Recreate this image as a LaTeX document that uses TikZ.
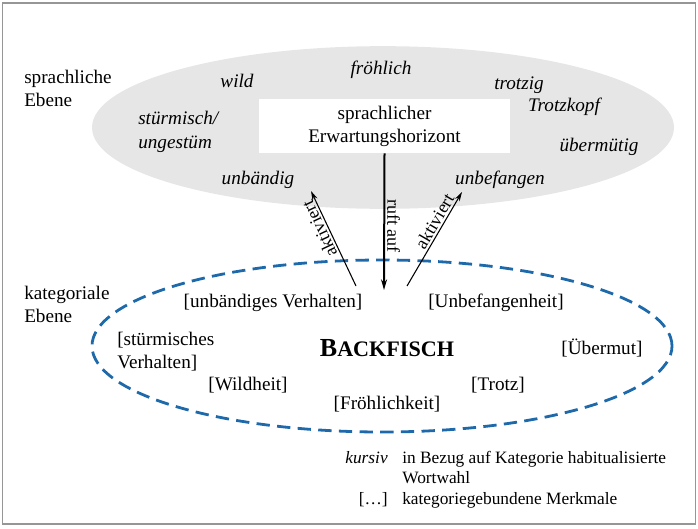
\documentclass[tikz,border=0pt]{standalone}
\usepackage{fontspec}
\setmainfont{Liberation Serif}
\usetikzlibrary{shapes.geometric,arrows.meta}
\definecolor{ellgray}{RGB}{230,230,230}
\definecolor{dashblue}{RGB}{30,105,170}
\definecolor{framegray}{RGB}{150,150,150}
\begin{document}
\begin{tikzpicture}[x=0.75pt,y=-0.75pt,
  txt/.style={inner sep=0pt,font=\fontsize{14.4}{17.25}\selectfont},
  wrd/.style={inner sep=0pt,font=\fontsize{14.4}{18}\selectfont\itshape},
  leg/.style={inner sep=0pt,font=\fontsize{13}{15}\selectfont},
  lab/.style={inner sep=1.5pt,font=\fontsize{13.5}{15}\selectfont,sloped,allow upside down,above},
  thinarrow/.style={line width=0.8pt,-{Stealth[length=7pt,width=4pt]}},
  thickarrow/.style={line width=1.5pt,-{Stealth[length=8pt,width=4.5pt]}}
]
\useasboundingbox (0,0) rectangle (698,528);
\draw[framegray,line width=1.1pt] (2.5,3) rectangle (695.5,524);

% upper ellipse
\node[ellipse,fill=ellgray,inner sep=0pt,minimum width=436.5pt,minimum height=122pt] (upper) at (383,127.5) {};
\node[fill=white,txt,align=center,minimum width=188pt,minimum height=40.5pt] (box) at (384.5,126) {sprachlicher\\Erwartungshorizont};

\node[txt,anchor=west,align=left] (sprEb) at (24,88.5) {sprachliche\\Ebene};
\node[wrd] (wild) at (237,81) {wild};
\node[wrd] (froh) at (381,70) {fröhlich};
\node[wrd] (trotzig) at (519,85) {trotzig};
\node[wrd] (trotzkopf) at (564,107) {Trotzkopf};
\node[wrd,anchor=west,align=left] (sturm) at (138,132) {stürmisch/\\ungestüm};
\node[wrd] (uebermuetig) at (599,147) {übermütig};
\node[wrd] (unbaendig) at (258,180) {unbändig};
\node[wrd] (unbefangen) at (500,180) {unbefangen};

% lower ellipse
\node[ellipse,draw=dashblue,line width=2.1pt,dash pattern=on 10pt off 5.5pt,inner sep=0pt,minimum width=435pt,minimum height=129pt] (lower) at (382,346) {};

\node[txt,anchor=west,align=left] (katEb) at (24,304) {kategoriale\\Ebene};
\node[txt] (unbVerh) at (273,303) {[unbändiges Verhalten]};
\node[txt] (unbefh) at (496,303) {[Unbefangenheit]};
\node[txt,anchor=west,align=left] (sturmVerh) at (117,352) {[stürmisches\\Verhalten]};
\node[inner sep=0pt,font=\bfseries] (backfisch) at (387,348) {\fontsize{19.5}{20}\selectfont B\fontsize{16.6}{17}\selectfont ACKFISCH};
\node[txt] (uebermut) at (602,348) {[Übermut]};
\node[txt] (wildheit) at (248,385) {[Wildheit]};
\node[txt] (trotz) at (498,385) {[Trotz]};
\node[txt] (froehl) at (387,404) {[Fröhlichkeit]};

% arrows
\coordinate (rufend) at (384,290);
\coordinate (aLs) at (356,286);
\coordinate (aLe) at (311,191);
\coordinate (aRs) at (407,286);
\coordinate (aRe) at (462,192);
\draw[thickarrow] (box.south) -- node[lab,pos=0.53] (ruft) {ruft auf} (rufend);
\draw[thinarrow] (aLs) -- node[lab,pos=0.64] (aktL) {aktiviert} (aLe);
\draw[thinarrow] (aRs) -- node[lab,pos=0.64] (aktR) {aktiviert} (aRe);

% legend
\node[leg,anchor=east,font=\fontsize{13}{15}\selectfont\itshape] (kursiv) at (388,458) {kursiv};
\node[leg,anchor=west,align=left] (kursivtxt) at (402,468) {in Bezug auf Kategorie habitualisierte\\Wortwahl};
\node[leg,anchor=east] (dots) at (388,500) {[…]};
\node[leg,anchor=west] (dotstxt) at (402,500) {kategoriegebundene Merkmale};
\end{tikzpicture}
\end{document}
